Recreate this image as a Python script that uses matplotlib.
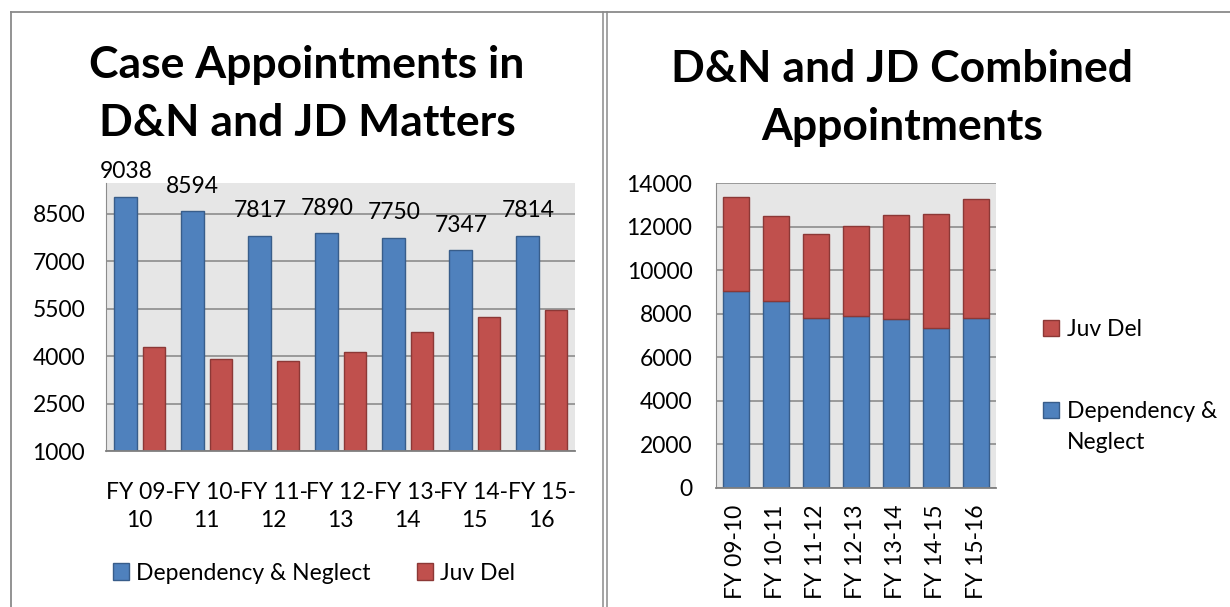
import numpy as np
import matplotlib.pyplot as plt
from matplotlib.lines import Line2D

plt.rcParams['font.family'] = ['Lato', 'DejaVu Sans']

# data
years = ["FY 09-10", "FY 10-11", "FY 11-12", "FY 12-13", "FY 13-14", "FY 14-15", "FY 15-16"]
dep_neglect = [9038, 8594, 7817, 7890, 7750, 7347, 7814]
juv_del = [4300, 3900, 3850, 4120, 4780, 5245, 5460]

blue, blue_edge = "#4f81bd", "#385d8a"
red, red_edge = "#c0504d", "#8c3836"
bg = "#e6e6e6"
grid_c = "#8c8c8c"
fs = 16.5

fig = plt.figure(figsize=(12.3, 6.07), dpi=100)
W, H = 1230, 607


def px_axes(l, t, r, b):
    return fig.add_axes([l / W, 1 - b / H, (r - l) / W, (b - t) / H])


def style(ax):
    ax.set_facecolor(bg)
    ax.set_axisbelow(True)
    ax.yaxis.grid(True, color=grid_c, lw=1.2)
    for s in ["top", "right"]:
        ax.spines[s].set_visible(False)
    ax.spines["left"].set_color(grid_c)
    ax.spines["bottom"].set_color("#7f7f7f")
    ax.spines["bottom"].set_linewidth(1.3)
    ax.tick_params(length=0, labelsize=fs)


x = np.arange(len(years))

# left: grouped bars
ax1 = px_axes(106, 183, 575, 451)
style(ax1)
b1 = ax1.bar(x - 0.205, dep_neglect, 0.34, color=blue, edgecolor=blue_edge, lw=1, label="Dependency & Neglect")
b2 = ax1.bar(x + 0.215, juv_del, 0.34, color=red, edgecolor=red_edge, lw=1, label="Juv Del")
ax1.set_ylim(1000, 9480)
ax1.set_xlim(-0.5, 6.5)
ax1.set_yticks([1000, 2500, 4000, 5500, 7000, 8500])
ax1.set_xticks(x)
ax1.set_xticklabels([y.replace("-", "-\n") for y in years], linespacing=1.45)
ax1.tick_params(axis="y", pad=15)
ax1.tick_params(axis="x", pad=22)
for xi, v in zip(x - 0.205, dep_neglect):
    ax1.annotate(str(v), (xi, v), xytext=(0, 18), textcoords="offset points",
                 ha="center", va="center", fontsize=fs, annotation_clip=False)

fig.text(307 / W, 1 - 94 / H, "Case Appointments in\nD&N and JD Matters", ha="center", va="center",
         fontsize=32, fontweight="bold", linespacing=1.53)
fig.legend(handles=[b1, b2], loc="center", bbox_to_anchor=(314 / W, 1 - 573 / H), ncol=2,
           frameon=False, fontsize=fs, handlelength=0.7, handleheight=0.7,
           handletextpad=0.3, columnspacing=2.0)

# right: stacked bars
ax2 = px_axes(716, 183, 996, 488)
style(ax2)
s1 = ax2.bar(x, dep_neglect, 0.65, color=blue, edgecolor=blue_edge, lw=1)
s2 = ax2.bar(x, juv_del, 0.65, bottom=dep_neglect, color=red, edgecolor=red_edge, lw=1)
ax2.set_ylim(0, 14000)
ax2.set_xlim(-0.5, 6.5)
ax2.set_yticks(range(0, 14001, 2000))
ax2.set_xticks(x)
ax2.set_xticklabels(years, rotation=90)
ax2.tick_params(axis="y", pad=17)
ax2.tick_params(axis="x", pad=12)

fig.text(902 / W, 1 - 98 / H, "D&N and JD Combined\nAppointments", ha="center", va="center",
         fontsize=32, fontweight="bold", linespacing=1.55)

leg2 = fig.legend(handles=[s2, s1], labels=["Juv Del", "Dependency &"], loc="upper left",
                  bbox_to_anchor=(1022 / W, 1 - 298 / H), frameon=False, fontsize=fs,
                  handlelength=0.7, handleheight=0.7, handletextpad=0.35, labelspacing=2.67)
fig.canvas.draw()
t = leg2.get_texts()[1].get_window_extent()
fig.text(t.x0 / W, (t.y0 - 10) / H, "Neglect", ha="left", va="top", fontsize=fs)

# table-like frame
lc = "#8a8a8a"
fig.add_artist(Line2D([11 / W, 1], [1 - 12 / H] * 2, color=lc, lw=1.3))
fig.add_artist(Line2D([11 / W] * 2, [0, 1 - 12 / H], color=lc, lw=1.3))
fig.add_artist(Line2D([603 / W] * 2, [0, 1 - 12 / H], color=lc, lw=1.1))
fig.add_artist(Line2D([606.5 / W] * 2, [0, 1 - 12 / H], color=lc, lw=1.1))

fig.savefig("out.png", dpi=100)
